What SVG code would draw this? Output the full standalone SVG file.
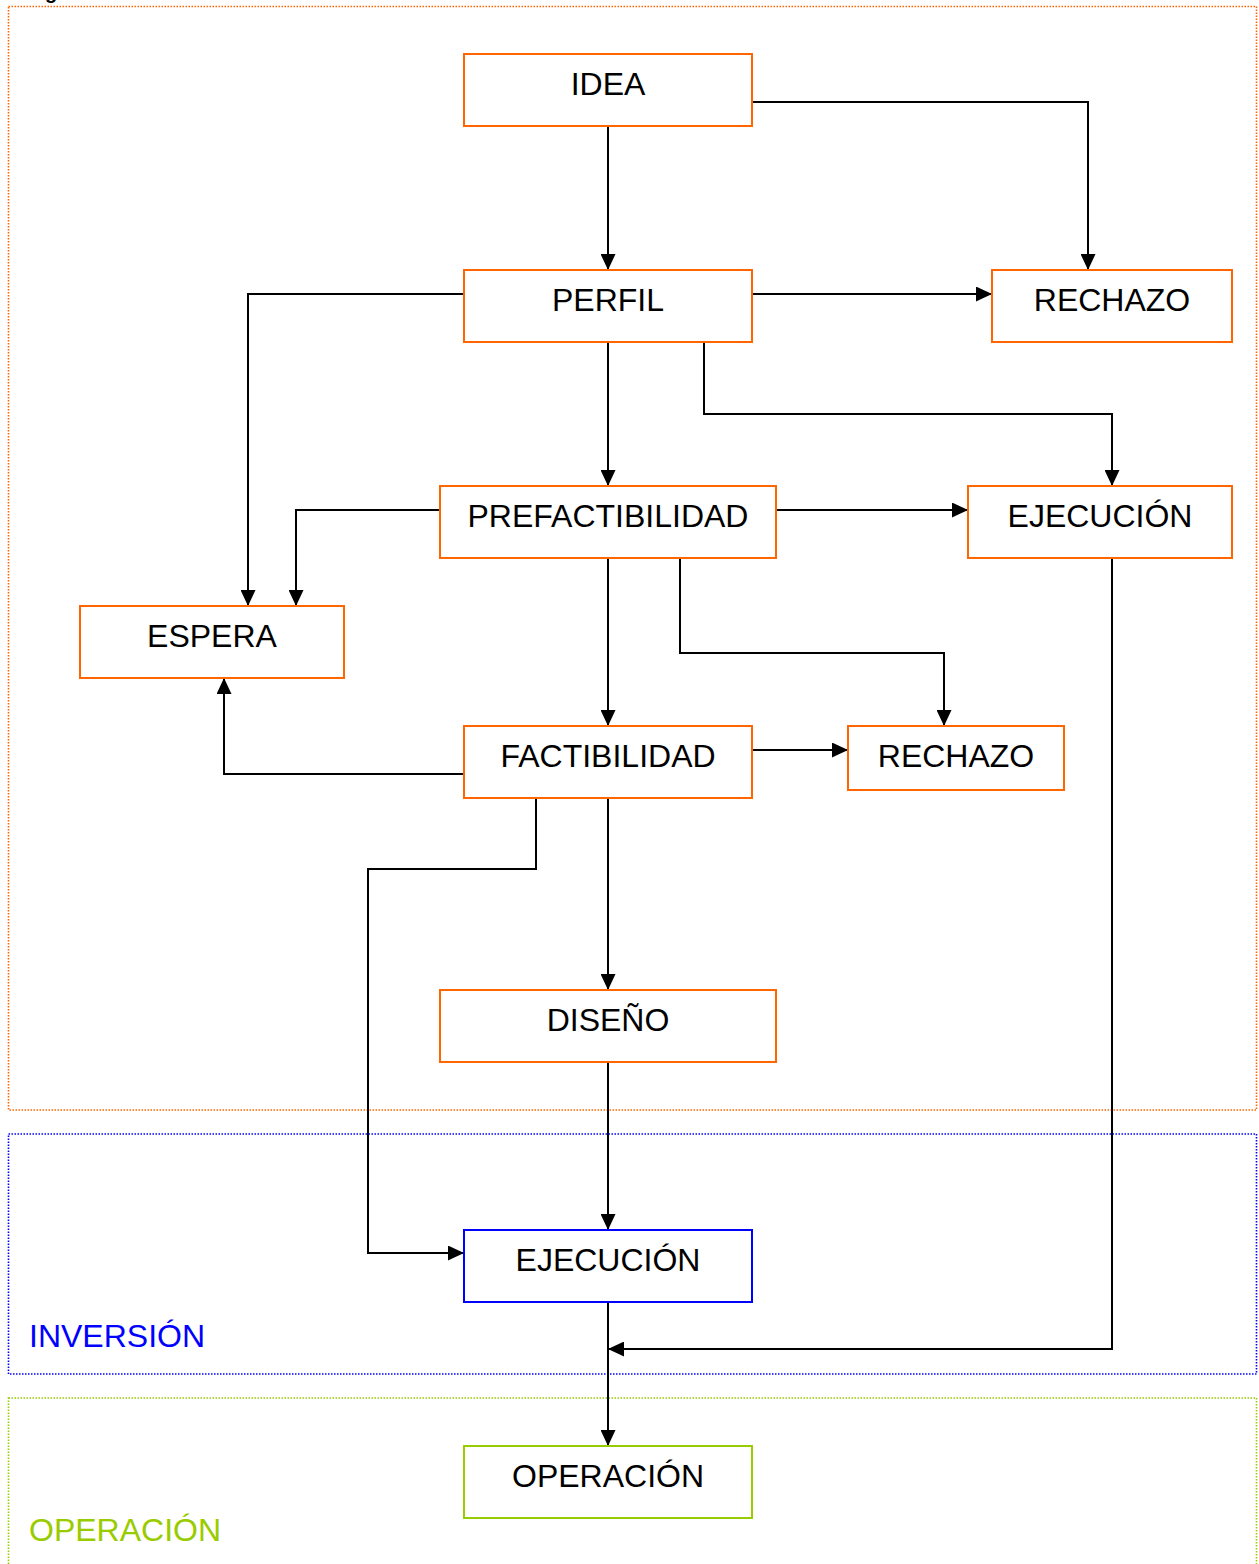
<svg xmlns="http://www.w3.org/2000/svg" width="1259" height="1564" viewBox="0 0 1259 1564">
  <style>
    .bg { fill: #ffffff; }
    .stage { fill: none; stroke-width: 1.6; stroke-dasharray: 1.5 1.5; }
    .box { fill: #ffffff; stroke-width: 2; }
    .pre { stroke: #ff6600; }
    .inv { stroke: #0000ff; }
    .op { stroke: #99cc00; }
    .lbl { font-family: "Liberation Sans", Arial, sans-serif; font-size: 32px; fill: #000000; text-anchor: middle; }
    .phase { font-family: "Liberation Sans", Arial, sans-serif; font-size: 32px; }
    .edge { fill: none; stroke: #000000; stroke-width: 2; marker-end: url(#arrow); }
  </style>
  <defs>
    <marker id="arrow" viewBox="0 0 16 15" refX="16" refY="7.5" markerWidth="16" markerHeight="15" markerUnits="userSpaceOnUse" orient="auto">
      <path d="M0,0 L16,7.5 L0,15 Z" fill="#000000"/>
    </marker>
  </defs>

  <rect class="bg" x="0" y="0" width="1259" height="1564"/>

  <!-- heading fragment at the top edge -->
  <text x="45" y="-1" font-family="Liberation Sans, Arial, sans-serif" font-size="20" font-weight="bold" fill="#000000">g</text>

  <!-- stage frames -->
  <g id="stages">
    <rect class="stage" x="8.5" y="6.5" width="1248" height="1103.5" stroke="#ff6600"/>
    <rect class="stage" x="8.5" y="1134" width="1248" height="240" stroke="#0000ff"/>
    <rect class="stage" x="8.5" y="1398" width="1248" height="200" stroke="#99cc00"/>
    <text class="phase" x="29" y="1347" fill="#0000ff">INVERSIÓN</text>
    <text class="phase" x="29" y="1541" fill="#99cc00">OPERACIÓN</text>
  </g>

  <!-- connectors -->
  <g id="connectors">
    <path class="edge" d="M608,126 L608,270"/>
    <path class="edge" d="M752,102 L1088,102 L1088,270"/>
    <path class="edge" d="M752,294 L992,294"/>
    <path class="edge" d="M464,294 L248,294 L248,606"/>
    <path class="edge" d="M608,342 L608,486"/>
    <path class="edge" d="M704,342 L704,414 L1112,414 L1112,486"/>
    <path class="edge" d="M440,510 L296,510 L296,606"/>
    <path class="edge" d="M776,510 L968,510"/>
    <path class="edge" d="M608,558 L608,726"/>
    <path class="edge" d="M680,558 L680,653 L944,653 L944,726"/>
    <path class="edge" d="M464,774 L224,774 L224,678"/>
    <path class="edge" d="M752,750 L848,750"/>
    <path class="edge" d="M608,798 L608,990"/>
    <path class="edge" d="M536,798 L536,869 L368,869 L368,1253 L464,1253"/>
    <path class="edge" d="M608,1062 L608,1230"/>
    <path class="edge" d="M1112,558 L1112,1349 L608,1349"/>
    <path class="edge" d="M608,1302 L608,1446"/>
  </g>

  <!-- nodes -->
  <g id="idea">
    <rect class="box pre" x="464" y="54" width="288" height="72"/>
    <text class="lbl" x="608" y="95">IDEA</text>
  </g>
  <g id="perfil">
    <rect class="box pre" x="464" y="270" width="288" height="72"/>
    <text class="lbl" x="608" y="311">PERFIL</text>
  </g>
  <g id="rechazo-perfil">
    <rect class="box pre" x="992" y="270" width="240" height="72"/>
    <text class="lbl" x="1112" y="311">RECHAZO</text>
  </g>
  <g id="prefactibilidad">
    <rect class="box pre" x="440" y="486" width="336" height="72"/>
    <text class="lbl" x="608" y="527">PREFACTIBILIDAD</text>
  </g>
  <g id="ejecucion-pre">
    <rect class="box pre" x="968" y="486" width="264" height="72"/>
    <text class="lbl" x="1100" y="527">EJECUCIÓN</text>
  </g>
  <g id="espera">
    <rect class="box pre" x="80" y="606" width="264" height="72"/>
    <text class="lbl" x="212" y="647">ESPERA</text>
  </g>
  <g id="factibilidad">
    <rect class="box pre" x="464" y="726" width="288" height="72"/>
    <text class="lbl" x="608" y="767">FACTIBILIDAD</text>
  </g>
  <g id="rechazo-prefactibilidad">
    <rect class="box pre" x="848" y="726" width="216" height="64"/>
    <text class="lbl" x="956" y="767">RECHAZO</text>
  </g>
  <g id="diseno">
    <rect class="box pre" x="440" y="990" width="336" height="72"/>
    <text class="lbl" x="608" y="1031">DISEÑO</text>
  </g>
  <g id="ejecucion-inv">
    <rect class="box inv" x="464" y="1230" width="288" height="72"/>
    <text class="lbl" x="608" y="1271">EJECUCIÓN</text>
  </g>
  <g id="operacion">
    <rect class="box op" x="464" y="1446" width="288" height="72"/>
    <text class="lbl" x="608" y="1487">OPERACIÓN</text>
  </g>
</svg>
